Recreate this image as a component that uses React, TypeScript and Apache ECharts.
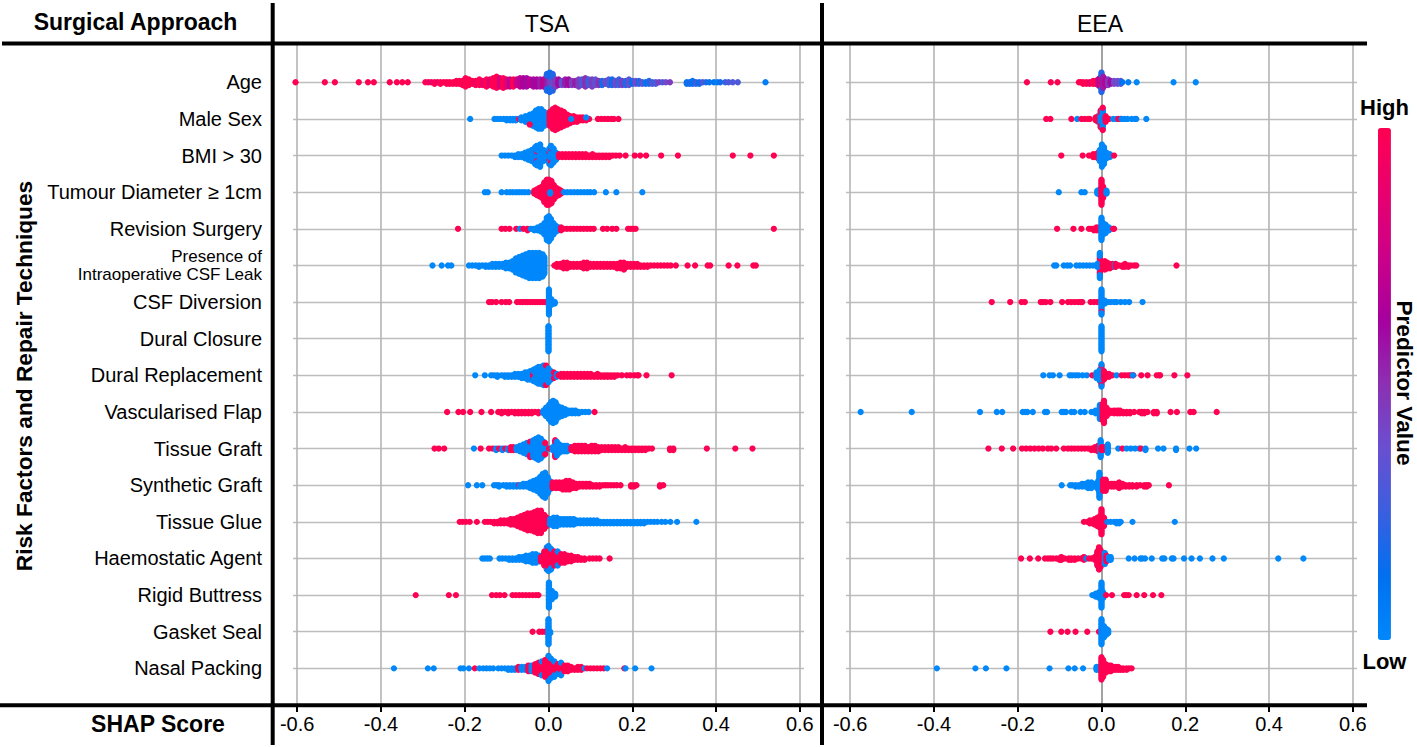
import { useEffect, useRef } from 'react';
import * as echarts from 'echarts';

const FONT = '"Liberation Sans", Arial, sans-serif';

const categories = [
  'Age', 'Male Sex', 'BMI > 30', 'Tumour Diameter ≥ 1cm', 'Revision Surgery',
  'Presence of\nIntraoperative CSF Leak', 'CSF Diversion', 'Dural Closure', 'Dural Replacement',
  'Vascularised Flap', 'Tissue Graft', 'Synthetic Graft', 'Tissue Glue', 'Haemostatic Agent',
  'Rigid Buttress', 'Gasket Seal', 'Nasal Packing',
];
const xTicks = [-0.6, -0.4, -0.2, 0, 0.2, 0.4, 0.6];
const rowTicks = categories.map((_, i) => i);

// each entry: [SHAP score, how many patients, predictor value 0 (low) .. 1 (high)]
type Bin = [number, number, number];

const tsaAge: Bin[] = [
  [-.604,1,1],[-.534,1,1],[-.51,1,1],[-.453,1,1],[-.431,1,1],[-.417,1,1],[-.379,1,1],[-.362,1,1],[-.349,1,1],[-.336,1,1],
  [-.294,1,1],[-.287,1,.95],[-.28,1,.9],[-.272,2,1],[-.265,1,.9],[-.258,2,1],[-.25,1,1],[-.243,2,1],[-.236,2,1],[-.228,2,1],[-.22,3,1],[-.213,3,1],[-.205,4,1],[-.198,7,1],[-.19,5,1],
  [-.182,3,1],[-.174,4,.95],[-.165,5,1],[-.157,4,.9],[-.148,6,1],[-.14,5,.85],[-.132,7,1],[-.124,9,1],[-.116,7,.8],[-.108,8,1],[-.1,6,.85],[-.092,6,.7],[-.084,6,1],[-.076,5,.75],[-.068,7,.7],[-.06,7,.65],
  [-.052,7,.6],[-.044,5,.7],[-.036,6,.6],[-.028,6,.65],[-.02,6,.55],[-.012,6,.7],[-.004,9,.55],[-.004,4,.2],
  [.003,7,.45],[.003,8,.15],[.01,8,.4],[.01,5,.2],[.017,6,.45],[.024,5,.6],[.032,4,.35],[.04,5,.55],[.048,5,.6],[.056,4,.45],[.064,4,.55],[.072,6,.45],[.08,5,.3],[.088,7,.5],[.096,5,.25],[.104,6,.45],
  [.112,5,.35],[.12,4,.5],[.128,4,.15],[.136,3,.4],[.144,5,.3],[.152,5,.15],[.16,4,.4],[.168,5,.25],[.176,4,.45],[.184,4,.2],[.192,5,.35],[.2,3,.15],[.208,3,.4],[.216,3,.2],[.224,2,.35],[.232,2,.1],[.24,3,.2],[.248,2,.3],[.256,2,.3],[.264,1,.45],[.272,1,.3],[.28,1,.4],[.29,1,.45],
  [.33,2,.1],[.337,2,.2],[.344,3,.1],[.352,2,.25],[.36,2,.15],[.368,1,.3],[.376,1,.2],[.384,1,.1],[.395,1,.1],[.403,1,.05],[.41,1,.15],[.422,1,.25],[.43,1,.3],[.44,1,.3],[.452,1,.3],[.518,1,.05],
];
const tsaMale: Bin[] = [
  [-.187,1,0],[-.129,1,0],[-.122,1,0],[-.115,1,0],[-.107,1,0],[-.1,2,0],[-.092,2,0],[-.085,2,0],[-.078,2,0],[-.07,1,1],[-.065,3,0],[-.055,5,0],[-.045,7,0],[-.037,10,0],[-.03,13,0],[-.024,15,0],[-.017,15,0],[-.01,11,0],[-.004,7,0],
  [.003,11,1],[.01,15,1],[.016,17,1],[.022,15,1],[.03,13,1],[.037,11,1],[.045,8,1],[.052,6,1],[.06,5,1],[.068,4,1],[.075,3,1],[.082,3,1],[.09,2,1],[.097,1,1],[.09,1,0],[.054,1,0],[-.045,1,1],
  [.118,1,1],[.126,1,1],[.134,1,1],[.142,1,1],[.15,1,1],[.156,1,1],[.167,1,1],
];
const tsaBmi: Bin[] = [
  [-.112,1,0],[-.104,1,0],[-.096,1,0],[-.088,1,0],[-.08,2,0],[-.072,3,0],[-.064,3,0],[-.056,5,0],[-.048,7,0],[-.04,9,0],[-.032,13,0],[-.028,6,0],[-.028,2,1],[-.028,7,0],[-.02,17,0],[-.012,9,0],[-.006,5,0],
  [.002,6,0],[.002,2,1],[.002,4,0],[.006,9,0],[.006,3,1],[.006,3,0],[.012,11,0],[.018,6,0],
  [.025,3,1],[.033,3,1],[.041,3,1],[.049,3,1],[.057,3,1],[.065,3,1],[.073,3,1],[.081,3,1],[.089,3,1],[.097,2,1],[.105,3,1],[.113,2,1],[.121,2,1],[.129,2,1],[.137,2,1],[.145,2,1],[.153,1,1],[.161,1,1],[.17,1,1],
  [.184,1,1],[.206,1,1],[.219,1,1],[.233,1,1],[.269,1,1],[.309,1,1],[.44,1,1],[.482,1,1],[.538,1,1],
];
const tsaTumour: Bin[] = [
  [-.152,1,0],[-.145,1,0],[-.112,1,0],[-.1,1,0],[-.092,1,0],[-.085,1,0],[-.077,1,0],[-.07,1,0],[-.063,1,0],[-.056,1,0],[-.048,1,0],
  [-.034,3,1],[-.028,5,1],[-.022,7,1],[-.016,9,1],[-.01,15,1],[-.004,19,1],[.001,19,1],[.007,17,1],[.013,11,1],[.019,7,1],[.025,5,1],[.03,3,1],[.004,2,0],
  [.037,1,0],[.045,1,0],[.053,1,0],[.061,1,0],[.069,1,0],[.077,1,0],[.085,1,0],[.093,1,0],[.1,1,0],[.109,1,0],[.137,1,0],[.162,1,0],[.224,1,0],
];
const tsaRevision: Bin[] = [
  [-.216,1,1],[-.112,1,1],[-.103,1,1],[-.093,1,1],[-.077,1,1],[-.068,1,0],[-.06,1,1],[-.05,2,1],[-.042,1,0],[-.034,2,0],[-.026,3,0],[-.018,5,0],
  [-.01,9,0],[-.004,17,0],[.001,19,0],[.006,15,0],[.012,9,0],[.018,5,0],[.024,3,0],[.03,3,1],
  [.036,1,1],[.044,1,1],[.052,1,1],[.06,1,1],[.068,1,1],[.076,1,1],[.084,1,1],[.092,1,1],[.1,1,1],[.108,1,1],[.13,1,1],[.14,1,1],[.152,1,1],[.162,1,1],[.19,1,1],[.196,1,1],[.202,1,1],[.208,1,1],[.538,1,1],
];
const tsaLeak: Bin[] = [
  [-.277,1,0],[-.255,1,0],[-.24,1,0],[-.232,1,0],[-.19,1,0],[-.182,1,0],[-.174,1,0],[-.166,2,0],[-.158,1,0],[-.15,2,0],[-.142,2,0],[-.134,3,0],[-.126,3,0],[-.118,3,0],[-.11,3,0],[-.102,5,0],[-.094,5,0],[-.086,7,0],[-.078,11,0],[-.07,13,0],[-.062,15,0],[-.054,17,0],[-.046,19,0],[-.038,19,0],[-.03,19,0],[-.022,19,0],[-.014,17,0],[-.01,13,0],
  [.014,1,1],[.02,3,1],[.028,3,1],[.036,5,1],[.044,5,1],[.052,3,1],[.06,3,1],[.068,3,1],[.076,3,1],[.084,5,1],[.092,5,1],[.1,3,1],[.108,3,1],[.116,3,1],[.124,3,1],[.132,3,1],[.14,3,1],[.148,3,1],[.156,3,1],[.164,4,1],[.172,5,1],[.18,6,1],[.188,3,1],[.196,3,1],[.204,3,1],[.212,3,1],[.22,2,1],[.228,2,1],[.236,2,1],[.244,1,1],[.252,1,1],[.26,1,1],[.268,1,1],[.276,1,1],[.284,1,1],[.292,1,1],[.304,1,1],
  [.332,1,1],[.35,1,1],[.38,1,1],[.386,1,1],[.43,1,1],[.451,1,1],[.489,1,1],[.495,1,1],
];
const tsaDiversion: Bin[] = [
  [-.142,1,1],[-.135,1,1],[-.125,1,1],[-.112,1,1],[-.102,1,1],[-.094,1,1],[-.075,1,1],[-.068,1,1],[-.062,1,1],[-.056,1,1],[-.05,1,1],[-.044,1,1],[-.038,1,1],[-.032,1,1],[-.026,1,1],[-.02,1,1],[-.014,1,1],[-.008,1,1],
  [.001,19,0],[.007,5,0],[.015,2,0],
];
const tsaClosure: Bin[] = [[.0,19,0]];
const tsaReplacement: Bin[] = [
  [-.175,1,0],[-.152,1,0],[-.137,1,0],[-.13,1,0],[-.122,2,0],[-.112,1,0],[-.104,2,0],[-.096,2,0],[-.088,2,0],[-.08,3,0],[-.072,3,0],[-.064,4,0],[-.056,5,0],[-.05,6,0],[-.044,7,0],[-.036,5,1],[-.036,4,0],[-.03,11,0],[-.024,13,0],[-.018,13,0],[-.012,15,0],[-.006,13,0],[-.006,2,1],[.0,11,0],[.006,7,0],
  [.013,3,0],[.013,2,1],[.02,3,0],[.024,1,1],[.03,3,1],[.037,3,1],[.045,3,1],[.053,3,1],[.061,3,1],[.069,3,1],[.077,3,1],[.085,3,1],[.093,3,1],[.101,3,1],[.109,2,1],[.117,3,1],[.125,2,1],[.133,2,1],[.141,2,1],[.149,2,1],[.157,2,1],[.165,1,1],[.175,1,1],[.187,1,1],[.195,1,1],[.205,1,1],[.212,1,1],[.215,1,1],[.234,1,1],[.294,1,1],
];
const tsaFlap: Bin[] = [
  [-.242,1,1],[-.215,1,1],[-.204,1,1],[-.187,1,1],[-.16,1,1],[-.137,1,1],[-.12,1,1],[-.112,2,1],[-.104,1,1],[-.096,2,1],[-.088,1,1],[-.08,2,1],[-.072,2,1],[-.064,2,1],[-.056,2,1],[-.048,2,1],[-.04,2,1],[-.032,1,1],[-.024,2,1],
  [-.012,3,0],[-.006,7,0],[.001,11,0],[.006,15,0],[.011,17,0],[.017,15,0],[.024,9,0],[.032,7,0],[.04,5,0],[.048,3,0],[.056,3,0],[.064,3,0],[.072,2,0],[.08,1,0],[.088,1,0],[.096,1,0],[.11,1,1],
];
const tsaTissue: Bin[] = [
  [-.272,1,1],[-.262,1,1],[-.249,1,1],[-.178,1,0],[-.162,1,1],[-.142,1,1],[-.133,1,1],[-.125,2,0],[-.118,1,1],[-.11,2,0],[-.103,1,1],[-.096,2,0],[-.09,3,1],[-.084,3,1],[-.076,3,0],[-.068,5,0],[-.06,7,0],[-.052,9,0],[-.044,9,0],[-.044,3,1],[-.036,13,0],[-.03,15,0],[-.024,17,0],[-.018,15,0],[-.012,11,0],[-.008,7,0],[-.008,2,1],
  [.001,1,1],[.01,3,0],[.016,9,0],[.016,4,1],[.02,11,0],[.026,7,0],[.032,5,0],[.038,5,0],[.044,5,0],[.05,3,0],[.055,3,1],[.063,5,1],[.071,5,1],[.079,5,1],[.087,5,1],[.095,4,1],[.103,5,1],[.111,5,1],[.119,4,1],[.127,3,1],[.135,3,1],[.143,3,1],[.151,3,1],[.159,3,1],[.167,3,1],[.175,2,1],[.183,3,1],[.191,2,1],[.199,2,1],[.207,2,1],[.215,2,1],[.223,2,1],[.231,2,1],[.239,1,1],[.247,1,1],
  [.29,2,1],[.298,2,1],[.378,1,1],[.446,1,1],[.487,1,1],
];
const tsaSynthetic: Bin[] = [
  [-.192,1,0],[-.171,1,0],[-.158,1,0],[-.13,1,0],[-.124,1,0],[-.118,2,0],[-.108,1,0],[-.1,2,0],[-.092,2,0],[-.084,2,0],[-.076,2,0],[-.07,1,1],[-.068,2,0],[-.06,3,0],[-.052,3,0],[-.044,5,0],[-.036,7,0],[-.028,9,0],[-.02,13,0],[-.014,17,0],[-.008,19,0],[-.002,13,0],[.003,7,0],
  [.01,5,1],[.018,5,1],[.026,5,1],[.034,6,1],[.042,7,1],[.05,7,1],[.058,5,1],[.066,4,1],[.074,3,1],[.082,3,1],[.09,3,1],[.098,3,1],[.106,2,1],[.114,2,1],[.122,2,1],[.13,1,1],
  [.136,1,1],[.142,1,1],[.149,1,1],[.156,1,1],[.163,1,1],[.172,1,1],[.197,2,1],[.204,2,1],[.21,1,1],[.266,2,1],[.274,1,1],
];
const tsaGlue: Bin[] = [
  [-.212,1,1],[-.205,1,1],[-.197,1,1],[-.188,1,1],[-.171,1,1],[-.152,1,1],[-.145,1,1],[-.138,1,1],[-.13,2,1],[-.122,2,1],[-.114,3,1],[-.106,3,1],[-.098,3,1],[-.09,5,1],[-.082,5,1],[-.074,7,1],[-.066,9,1],[-.058,11,1],[-.05,13,1],[-.042,13,1],[-.034,15,1],[-.026,17,1],[-.018,17,1],[-.01,11,1],[-.004,7,1],
  [.004,5,0],[.012,7,0],[.02,7,0],[.028,5,0],[.036,5,0],[.044,5,0],[.052,5,0],[.06,5,0],[.068,3,0],[.076,3,0],[.084,3,0],[.092,3,0],[.1,3,0],[.108,3,0],[.116,3,0],[.124,2,0],[.132,2,0],[.14,2,0],[.148,2,0],[.156,2,0],[.164,2,0],[.172,2,0],[.18,2,0],[.188,2,0],[.196,2,0],[.204,2,0],[.212,2,0],[.22,2,0],[.228,2,0],[.236,1,0],[.244,1,0],[.252,1,0],[.26,1,0],[.27,1,0],[.279,1,0],[.291,1,0],[.307,1,0],[.353,1,0],
];
const tsaHaemostatic: Bin[] = [
  [-.158,1,0],[-.152,1,0],[-.146,1,0],[-.14,1,0],[-.117,1,0],[-.11,1,0],[-.102,1,0],[-.094,2,0],[-.086,2,0],[-.078,2,0],[-.07,3,0],[-.062,3,0],[-.054,5,0],[-.046,5,0],[-.038,7,0],[-.03,7,0],[-.022,5,0],[-.016,5,0],
  [-.018,4,1],[-.01,11,1],[-.004,15,1],[-.004,2,0],[.0,17,1],[.0,2,0],[.006,13,1],[.006,3,0],[.014,11,1],[.022,9,1],[.022,2,0],[.03,7,1],[.038,7,1],[.046,5,1],[.054,5,1],[.062,3,1],[.07,3,1],[.078,2,1],[.086,2,1],[.098,1,1],[.106,1,1],[.114,1,1],[.122,1,1],[.146,1,1],
];
const tsaRigid: Bin[] = [
  [-.317,1,1],[-.238,1,1],[-.221,1,1],[-.135,1,1],[-.125,1,1],[-.116,1,1],[-.105,1,1],[-.086,1,1],[-.078,1,1],[-.07,1,1],[-.062,1,1],[-.054,1,1],[-.046,1,1],[-.038,1,1],[-.03,1,1],[-.024,1,1],
  [.001,19,0],[.008,7,0],[.016,3,0],
];
const tsaGasket: Bin[] = [[-.038,1,1],[-.022,1,1],[-.015,1,1],[-.008,1,1],[.0,19,0],[.004,2,0]];
const tsaPacking: Bin[] = [
  [-.369,1,0],[-.288,1,0],[-.274,1,0],[-.21,1,0],[-.203,1,0],[-.19,1,0],[-.176,1,1],[-.165,1,0],[-.156,1,0],[-.148,1,0],[-.14,1,0],[-.132,1,0],[-.12,1,0],[-.112,1,0],[-.104,1,0],[-.096,2,0],[-.088,2,0],[-.08,2,0],[-.072,3,1],[-.064,3,0],[-.056,3,0],[-.048,5,1],[-.04,5,0],[-.032,7,1],[-.024,9,1],[-.016,9,1],[-.016,2,0],[-.008,13,1],[.0,17,1],[.0,2,0],[.006,13,1],[.006,2,0],[.014,9,1],[.014,3,0],[.022,7,1],[.022,1,0],[.03,7,1],[.03,3,0],[.038,5,1],[.046,5,1],[.054,3,1],[.062,2,1],[.07,3,1],[.078,3,1],[.086,1,0],[.092,1,1],[.1,1,1],[.108,1,1],[.116,1,1],[.124,1,1],[.132,1,1],[.14,1,0],[.181,1,1],[.184,1,0],[.207,1,0],[.246,1,0],
];

const eeaAge: Bin[] = [
  [-.178,1,1],[-.121,1,1],[-.105,1,1],[-.054,1,1],[-.05,1,1],[-.044,2,1],[-.036,2,1],[-.028,2,.9],[-.02,3,1],[-.014,3,1],[-.008,5,.85],[-.004,7,.6],[.0,9,.8],[.0,6,.2],[.004,9,.55],[.01,5,.7],[.016,5,.45],[.022,3,.6],[.03,3,.4],[.038,3,.4],[.046,3,.3],[.05,1,.1],[.064,1,.05],[.084,1,0],[.172,1,0],[.225,1,0],
];
const eeaMale: Bin[] = [
  [-.132,1,1],[-.122,1,1],[-.072,1,1],[-.058,1,0],[-.048,1,1],[-.04,1,1],[-.032,1,1],[-.028,1,1],[-.014,3,1],[-.008,5,1],[-.002,9,0],[-.002,4,1],[.003,15,0],[.003,2,1],[.01,5,1],[.018,1,1],[.028,1,0],[.036,1,0],[.04,1,1],[.046,1,1],[.048,1,0],[.055,1,0],[.062,1,0],[.072,1,0],[.08,1,0],[.083,1,0],[.107,1,0],
];
const eeaBmi: Bin[] = [
  [-.096,1,1],[-.045,1,1],[-.03,1,1],[-.02,3,1],[-.014,3,1],[-.008,5,1],[-.004,9,0],[.001,17,0],[.006,13,0],[.012,5,0],[.02,3,0],[.03,1,1],
];
const eeaTumour: Bin[] = [
  [-.102,1,0],[-.048,1,0],[-.04,1,0],[-.01,3,0],[-.004,5,0],[.0,19,1],[.004,9,1],[.012,3,0],
];
const eeaRevision: Bin[] = [
  [-.106,1,1],[-.067,1,1],[-.048,1,1],[-.03,1,1],[-.024,1,1],[-.018,2,1],[-.012,3,1],[-.006,3,1],[.0,17,0],[.004,9,0],[.01,7,0],[.018,3,0],[.028,1,1],[.03,1,1],
];
const eeaLeak: Bin[] = [
  [-.113,1,0],[-.108,1,0],[-.09,1,0],[-.082,1,0],[-.075,1,0],[-.06,1,0],[-.052,1,0],[-.044,1,0],[-.036,1,0],[-.028,1,0],[-.02,1,0],[-.01,3,0],[-.004,9,0],[-.004,4,1],[-.004,6,0],[.003,5,1],[.008,7,1],[.014,5,1],[.02,4,1],[.026,3,1],[.032,3,0],[.034,3,1],[.042,1,1],[.05,2,1],[.056,3,1],[.064,2,1],[.07,1,1],[.078,1,1],[.083,1,1],[.179,1,1],
];
const eeaDiversion: Bin[] = [
  [-.262,1,1],[-.218,1,1],[-.191,1,1],[-.183,1,1],[-.145,1,1],[-.14,1,1],[-.133,1,1],[-.122,1,1],[-.094,1,1],[-.08,1,1],[-.072,1,1],[-.064,1,1],[-.056,1,1],[-.05,1,1],[-.046,1,1],[-.026,1,1],[-.018,1,1],[-.01,1,1],[-.004,1,1],
  [.0,13,0],[.0,1,1],[.0,5,0],[.008,3,0],[.015,1,0],[.022,1,0],[.03,1,0],[.036,1,0],[.046,1,0],[.056,1,0],[.066,1,0],[.098,1,0],
];
const eeaClosure: Bin[] = [[.0,19,0]];
const eeaReplacement: Bin[] = [
  [-.139,1,0],[-.124,1,0],[-.116,1,0],[-.1,1,0],[-.076,1,0],[-.07,1,0],[-.062,1,0],[-.055,1,0],[-.045,1,0],[-.035,1,0],[-.022,1,1],[-.012,5,0],[-.004,9,0],[.0,13,0],[.0,2,1],[.0,2,0],[.006,7,1],[.012,3,1],[.018,3,1],[.026,1,1],[.036,1,0],[.048,1,1],[.056,1,1],[.064,1,1],[.07,1,1],[.076,1,1],[.075,1,0],[.095,1,1],[.11,1,1],[.132,1,1],[.138,1,1],[.14,1,1],[.174,1,1],[.205,1,1],
];
const eeaFlap: Bin[] = [
  [-.575,1,0],[-.453,1,0],[-.29,1,0],[-.25,1,0],[-.237,1,0],[-.188,1,0],[-.182,1,0],[-.177,1,0],[-.164,1,0],[-.135,1,0],[-.13,1,0],[-.095,1,0],[-.09,1,0],[-.085,1,0],[-.072,1,0],[-.065,1,0],[-.05,1,0],[-.04,1,0],[-.024,1,0],[-.014,3,0],[-.004,11,0],
  [.003,13,1],[.006,17,1],[.012,7,1],[.02,3,1],[.03,3,1],[.038,3,1],[.044,3,1],[.052,2,1],[.06,2,1],[.068,2,1],[.078,1,1],[.09,1,1],[.096,2,1],[.102,2,1],[.11,1,1],[.125,2,1],[.132,2,1],[.165,1,1],[.18,1,1],[.212,1,1],[.22,1,1],[.275,1,1],
];
const eeaTissue: Bin[] = [
  [-.27,1,1],[-.238,1,1],[-.211,1,1],[-.19,1,1],[-.18,1,1],[-.17,1,1],[-.16,1,1],[-.15,1,1],[-.14,1,1],[-.128,1,1],[-.12,1,1],[-.108,1,1],[-.09,1,1],[-.08,1,1],[-.072,1,1],[-.064,1,1],[-.056,1,1],[-.048,1,1],[-.04,1,1],[-.032,1,1],[-.024,2,1],[-.016,3,1],[-.008,5,1],
  [-.002,13,0],[.0,3,1],[.006,3,1],[.012,3,1],[.015,7,0],[.04,1,0],[.05,1,1],[.06,1,0],[.07,1,0],[.08,1,0],[.09,1,0],[.094,1,1],[.105,2,0],[.135,1,0],[.148,1,0],[.178,2,0],[.21,1,0],[.226,1,0],
];
const eeaSynthetic: Bin[] = [
  [-.095,1,0],[-.075,1,0],[-.07,1,0],[-.062,2,0],[-.054,2,0],[-.046,3,0],[-.038,3,0],[-.032,5,0],[-.024,5,0],[-.016,3,0],[-.008,7,0],[-.005,19,0],[.004,9,1],[.01,9,1],[.016,3,1],[.024,3,1],[.03,3,1],[.038,3,1],[.042,5,1],[.05,3,1],[.058,2,1],[.066,2,1],[.074,2,1],[.084,2,1],[.092,1,1],[.102,2,1],[.108,2,1],[.113,1,1],[.161,1,1],
];
const eeaGlue: Bin[] = [
  [-.042,1,1],[-.034,1,1],[-.028,3,1],[-.022,3,1],[-.016,5,1],[-.01,7,1],[-.004,9,1],[.0,19,1],[.006,7,1],[.014,1,0],[.022,1,0],[.03,1,0],[.036,2,0],[.042,2,0],[.046,1,0],[.074,1,0],[.175,1,0],
];
const eeaHaemostatic: Bin[] = [
  [-.192,1,1],[-.171,1,1],[-.151,1,1],[-.135,1,1],[-.128,1,1],[-.122,1,1],[-.116,1,1],[-.108,1,1],[-.1,2,1],[-.096,3,1],[-.088,1,1],[-.078,2,1],[-.072,2,1],[-.064,2,1],[-.056,1,1],[-.048,1,1],[-.042,3,1],[-.036,1,0],[-.03,1,1],[-.024,1,1],
  [-.016,3,1],[-.01,11,1],[-.006,17,1],[-.002,13,1],[.004,5,1],[.008,9,0],[.012,5,1],[.018,3,0],[.022,3,0],
  [.065,1,0],[.079,1,0],[.093,1,0],[.097,1,0],[.104,1,0],[.12,1,0],[.145,1,0],[.15,1,0],[.168,1,0],[.172,1,0],[.197,1,0],[.215,1,0],[.235,1,0],[.265,1,0],[.292,1,0],[.422,1,0],[.482,1,0],
];
const eeaRigid: Bin[] = [
  [-.022,1,0],[-.014,3,0],[-.006,5,0],[.0,19,0],[.004,5,0],[.011,1,1],[.025,1,1],[.054,1,1],[.059,1,1],[.065,1,1],[.084,1,1],[.102,1,1],[.123,1,1],[.143,1,1],
];
const eeaGasket: Bin[] = [
  [-.122,1,1],[-.096,1,1],[-.081,1,1],[-.062,1,1],[-.034,1,1],[-.006,1,1],[.0,19,0],[.006,9,0],[.012,5,0],[.016,3,0],
];
const eeaPacking: Bin[] = [
  [-.393,1,0],[-.301,1,0],[-.276,1,0],[-.227,1,0],[-.124,1,0],[-.079,1,0],[-.064,1,0],[-.044,1,0],[-.012,3,0],[-.006,3,0],
  [.0,17,1],[.004,13,1],[.01,7,1],[.016,5,1],[.022,5,1],[.028,3,1],[.034,3,1],[.04,3,1],[.046,2,1],[.052,2,1],[.06,2,1],[.066,1,1],[.072,1,1],
];

const tsaRows = [tsaAge, tsaMale, tsaBmi, tsaTumour, tsaRevision, tsaLeak, tsaDiversion, tsaClosure, tsaReplacement, tsaFlap, tsaTissue, tsaSynthetic, tsaGlue, tsaHaemostatic, tsaRigid, tsaGasket, tsaPacking];
const eeaRows = [eeaAge, eeaMale, eeaBmi, eeaTumour, eeaRevision, eeaLeak, eeaDiversion, eeaClosure, eeaReplacement, eeaFlap, eeaTissue, eeaSynthetic, eeaGlue, eeaHaemostatic, eeaRigid, eeaGasket, eeaPacking];

const barColors = ['#0088fb', '#0070f0', '#3a5fe0', '#6a4fd0', '#8c30b2', '#a6009e', '#cc0088', '#e8006e', '#ff0052'];

// patients with the same score pile up around the row: 0, +1, -1, +2, -2 ...
const LANE_STEP = 0.038;
function swarm(rows: Bin[][]) {
  const points: number[][] = [];
  rows.forEach((bins, row) => {
    const used = new Map<number, number>();
    bins.forEach(([shap, count, value]) => {
      let k = used.get(shap) ?? 0;
      for (let i = 0; i < count; i++, k++) {
        const lane = k % 2 ? (k + 1) / 2 : -k / 2;
        points.push([shap, row + lane * LANE_STEP, value]);
      }
      used.set(shap, k);
    });
  });
  return points;
}

function bar(x: number, y: number, width: number, height: number) {
  return { type: 'rect', shape: { x, y, width, height }, style: { fill: '#000' }, z: 20 };
}

function label(text: string, x: number, y: number, font: string, rotation = 0) {
  return {
    type: 'text', x, y, rotation, z: 20,
    style: { text, font, fill: '#000', textAlign: 'center', textVerticalAlign: 'middle' },
  };
}

function xAxis(gridIndex: number) {
  return {
    type: 'value', gridIndex, min: -0.61, max: 0.61,
    axisLine: { show: false, onZero: false },
    axisTick: { customValues: xTicks, length: 7, lineStyle: { color: '#000', width: 2 } },
    axisLabel: { customValues: xTicks, margin: 9, fontSize: 20, fontFamily: FONT, color: '#000', formatter: (v: number) => v.toFixed(1) },
    splitLine: { show: true, lineStyle: { color: ['#b5b5b5', '#b5b5b5', '#b5b5b5', '#8c8c8c', '#b5b5b5', '#b5b5b5', '#b5b5b5'], width: 1.6 } },
  };
}

function yAxis(gridIndex: number, showLabels: boolean) {
  return {
    type: 'value', gridIndex, inverse: true, min: -1.073, max: 17,
    axisLine: { show: false, onZero: false },
    axisTick: { show: false, customValues: rowTicks },
    axisLabel: {
      show: showLabels, customValues: rowTicks, margin: 31, fontSize: 20, fontFamily: FONT, color: '#000',
      formatter: (v: number) => {
        const name = categories[v] ?? '';
        return name.includes('\n') ? name.split('\n').map((s) => `{small|${s}}`).join('\n') : name;
      },
      rich: { small: { fontSize: 17, lineHeight: 18, fontFamily: FONT, color: '#000', align: 'right' } },
    },
    splitLine: { show: true, lineStyle: { color: '#bdbdbd', width: 1.4 } },
  };
}

export default function App() {
  const chartRef = useRef<HTMLDivElement>(null);

  useEffect(() => {
    if (!chartRef.current) return;
    const chart = echarts.init(chartRef.current, undefined, { renderer: 'svg' });

    const option: any = {
      animation: false,
      backgroundColor: '#fff',
      grid: [
        { left: 293, top: 43, width: 511, height: 662 },
        { left: 846, top: 43, width: 511, height: 662 },
      ],
      xAxis: [xAxis(0), xAxis(1)],
      yAxis: [yAxis(0, true), yAxis(1, false)],
      visualMap: {
        type: 'continuous', min: 0, max: 1, dimension: 2, seriesIndex: [0, 1],
        left: 1345, top: 81, itemWidth: 13, itemHeight: 512, textGap: 10, borderRadius: 0,
        text: ['High', 'Low'], calculable: false, hoverLink: false,
        textStyle: { fontFamily: FONT, fontSize: 22, fontWeight: 'bold', color: '#000' },
        inRange: { color: barColors },
      },
      series: [
        { type: 'scatter', xAxisIndex: 0, yAxisIndex: 0, symbolSize: 6.3, data: swarm(tsaRows), itemStyle: { opacity: 1 } },
        { type: 'scatter', xAxisIndex: 1, yAxisIndex: 1, symbolSize: 6.3, data: swarm(eeaRows), itemStyle: { opacity: 1 } },
      ],
      graphic: [
        bar(2, 41.5, 1365, 4),
        bar(0, 703.3, 1367, 4),
        bar(270.7, 3, 4, 742),
        bar(820, 3, 4, 742),
        label('Surgical Approach', 135.5, 22, `bold 23px ${FONT}`),
        label('TSA', 547, 24, `23px ${FONT}`),
        label('EEA', 1100, 24, `23px ${FONT}`),
        label('SHAP Score', 158, 724, `bold 23px ${FONT}`),
        label('Risk Factors and Repair Techniques', 24, 376, `bold 22.7px ${FONT}`, Math.PI / 2),
        label('Predictor Value', 1405, 383, `bold 22.7px ${FONT}`, -Math.PI / 2),
      ],
    };
    chart.setOption(option);

    return () => {
      chart.dispose();
    };
  }, []);

  return <div ref={chartRef} style={{ position: 'fixed', left: 0, top: 0, width: 1417, height: 747 }} />;
}
